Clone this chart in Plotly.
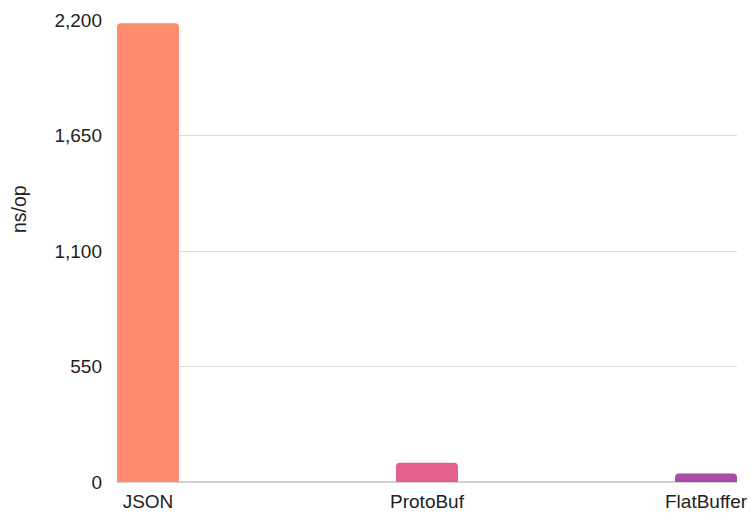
import plotly.graph_objects as go

categories = ["JSON", "ProtoBuf", "FlatBuffer"]
values = [2185, 92, 40]
colors = ["#FF8C6E", "#E2608A", "#A84CA8"]
tick_vals = [0, 550, 1100, 1650, 2200]
tick_text = ["0", "550", "1,100", "1,650", "2,200"]
y_title = "ns/op"

fig = go.Figure(go.Bar(
    x=list(range(len(categories))),
    y=values,
    width=0.222,
    marker=dict(color=colors, cornerradius=4, line=dict(width=0)),
))

fig.update_layout(
    width=751, height=516,
    margin=dict(l=117, r=14, t=20, b=34),
    paper_bgcolor="white", plot_bgcolor="white",
    font=dict(family="Liberation Sans, Arial, sans-serif", size=19, color="#222222"),
    showlegend=False,
    xaxis=dict(
        range=[-0.111, 2.111],
        tickvals=list(range(len(categories))),
        ticktext=categories,
        tickfont=dict(size=19),
        showgrid=False, zeroline=False, showline=False,
        ticks="", ticklen=0, ticklabelstandoff=6,
        automargin=False,
    ),
    yaxis=dict(
        range=[0, 2200],
        tickvals=tick_vals,
        ticktext=tick_text,
        tickfont=dict(size=19),
        showgrid=True, gridcolor="#dddddd", gridwidth=1,
        zeroline=True, zerolinecolor="#d0d0d0", zerolinewidth=2,
        ticks="", ticklabelstandoff=14,
        automargin=False,
    ),
    annotations=[dict(
        text=y_title, textangle=-90, showarrow=False,
        xref="paper", yref="paper",
        x=(19 - 117) / 620, y=(482 - 209) / 462,
        xanchor="center", yanchor="middle",
        font=dict(size=19.5, color="#222222"),
    )],
)

fig.write_html("out.html")
